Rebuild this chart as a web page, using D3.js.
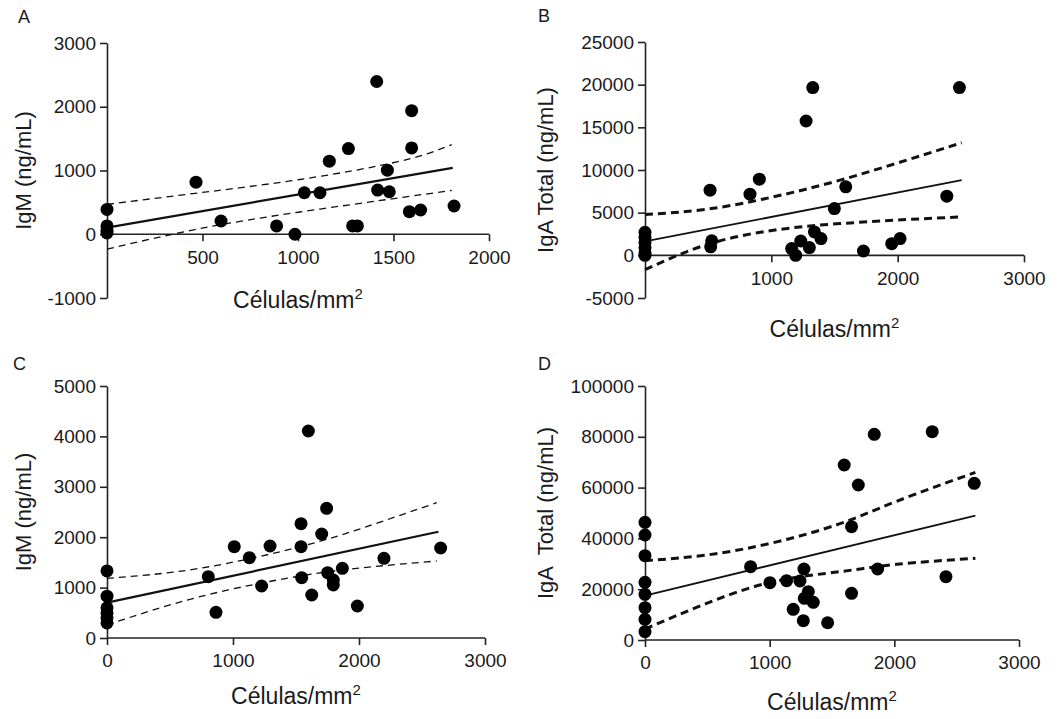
<!DOCTYPE html>
<html>
<head>
<meta charset="utf-8">
<script src="https://cdn.jsdelivr.net/npm/d3@7"></script>
<style>
  body { margin: 0; background: #fff; }
  svg text { font-family: "Liberation Sans", Arial, sans-serif; fill: #1a1a1a; }
</style>
</head>
<body>
<div id="container"></div>
<script>
/**
 * DATA
 * */
// A: IgM vs células/mm2
const aX = [0, 0, 0, 0, 466, 597, 888, 984, 1033, 1115, 1164, 1264, 1286, 1311, 1412, 1417, 1468, 1478, 1583, 1595, 1595, 1642, 1817];
const aY = [390, 130, 60, 20, 817, 208, 130, 0, 651, 651, 1146, 1344, 130, 130, 2396, 693, 1005, 667, 354, 1938, 1354, 380, 443];
const aFitX = [0, 1810];
const aFitY = [104, 1042];
const aBandX = [0, 487, 1010, 1534, 1805];
const aUpper = [469, 651, 859, 1146, 1406];
const aLower = [-234, 89, 349, 573, 688];

// B: IgA total vs células/mm2
const bX = [0, 0, 0, 0, 0, 0, 515, 528, 520, 831, 905, 1161, 1193, 1233, 1275, 1301, 1328, 1341, 1393, 1499, 1589, 1729, 1953, 2019, 2389, 2489];
const bY = [2700, 2100, 1500, 900, 300, 0, 7635, 1700, 1000, 7165, 8928, 787, 0, 1680, 15740, 904, 19655, 2740, 1960, 5480, 8025, 510, 1370, 1960, 6930, 19655];
const bFitX = [0, 2507];
const bFitY = [1640, 8810];
const bBandX = [0, 488, 1016, 1544, 2072, 2507];
const bUpper = [4780, 5400, 6850, 8810, 11160, 13190];
const bLower = [-1680, 1250, 2940, 3720, 4190, 4500];

// C: IgM vs células/mm2
const cX = [0, 0, 0, 0, 0, 0, 804, 865, 1010, 1130, 1227, 1294, 1540, 1540, 1545, 1598, 1625, 1704, 1743, 1751, 1796, 1796, 1868, 1987, 2198, 2648];
const cY = [1330, 830, 600, 500, 400, 300, 1217, 510, 1812, 1594, 1032, 1825, 2268, 1812, 1197, 4107, 853, 2063, 2573, 1296, 1151, 1052, 1382, 635, 1581, 1786];
const cFitX = [0, 2630];
const cFitY = [701, 2109];
const cBandX = [0, 738, 1532, 2061, 2617];
const cUpper = [1184, 1383, 1812, 2209, 2685];
const cLower = [258, 820, 1230, 1403, 1528];

// D: IgA total vs células/mm2
const dX = [0, 0, 0, 0, 0, 0, 0, 0, 847, 1002, 1136, 1189, 1243, 1270, 1275, 1278, 1310, 1350, 1465, 1598, 1657, 1657, 1711, 1839, 1866, 2304, 2414, 2641];
const dY = [46340, 41340, 33200, 22700, 17990, 12720, 8150, 3270, 28860, 22560, 23350, 12080, 23230, 7600, 27950, 16400, 19020, 14830, 6800, 68900, 44600, 18370, 61020, 80980, 27950, 82000, 24930, 61690];
const dFitX = [0, 2650];
const dFitY = [17500, 49000];
const dBandX = [0, 495, 1029, 1564, 2018, 2650];
const dUpper = [31220, 33460, 38310, 45800, 54600, 66000];
const dLower = [4300, 14450, 22950, 26900, 29800, 32160];

// ticks
const aXTicks = [500, 1000, 1500, 2000];
const aYTicks = [-1000, 0, 1000, 2000, 3000];
const bXTicks = [1000, 2000, 3000];
const bYTicks = [-5000, 0, 5000, 10000, 15000, 20000, 25000];
const cXTicks = [0, 1000, 2000, 3000];
const cYTicks = [0, 1000, 2000, 3000, 4000, 5000];
const dXTicks = [0, 1000, 2000, 3000];
const dYTicks = [0, 20000, 40000, 60000, 80000, 100000];

/**
 * LAYOUT
 * */
const width = 1060, height = 719;

const panels = [
  { letter: "A", title: "IgM (ng/mL)", x: aX, y: aY, fitX: aFitX, fitY: aFitY, bandX: aBandX, up: aUpper, lo: aLower,
    xTicks: aXTicks, yTicks: aYTicks, xDom: [0, 2000], yDom: [-1000, 3000],
    xR: [107, 489], yR: [298, 43], letterPos: [18, 23], yTitleX: 31, xTitleY: 308, thick: false },
  { letter: "B", title: "IgA Total (ng/mL)", x: bX, y: bY, fitX: bFitX, fitY: bFitY, bandX: bBandX, up: bUpper, lo: bLower,
    xTicks: bXTicks, yTicks: bYTicks, xDom: [0, 3000], yDom: [-5000, 25000],
    xR: [645, 1024], yR: [298, 42], letterPos: [538, 22], yTitleX: 553, xTitleY: 337, thick: true },
  { letter: "C", title: "IgM (ng/mL)", x: cX, y: cY, fitX: cFitX, fitY: cFitY, bandX: cBandX, up: cUpper, lo: cLower,
    xTicks: cXTicks, yTicks: cYTicks, xDom: [0, 3000], yDom: [0, 5000],
    xR: [107, 485], yR: [638, 386], letterPos: [13, 370], yTitleX: 31, xTitleY: 704, thick: false },
  { letter: "D", title: "IgA  Total (ng/mL)", x: dX, y: dY, fitX: dFitX, fitY: dFitY, bandX: dBandX, up: dUpper, lo: dLower,
    xTicks: dXTicks, yTicks: dYTicks, xDom: [0, 3000], yDom: [0, 100000],
    xR: [645, 1019], yR: [640, 386], letterPos: [538, 370], yTitleX: 553, xTitleY: 710, thick: true }
];

// plain hyphen for negatives, like the original figure
const fmt = d => String(d);

const svg = d3.select("#container").append("svg")
  .attr("width", width)
  .attr("height", height);

panels.forEach(drawPanel);

function drawPanel(p) {
  const x = d3.scaleLinear().domain(p.xDom).range(p.xR);
  const y = d3.scaleLinear().domain(p.yDom).range(p.yR);
  const g = svg.append("g");

  // axes
  const yAxis = g.append("g")
    .attr("transform", `translate(${p.xR[0]},0)`)
    .call(d3.axisLeft(y).tickValues(p.yTicks).tickSize(7).tickSizeOuter(0).tickPadding(4).tickFormat(fmt));
  const xAxis = g.append("g")
    .attr("transform", `translate(0,${y(0)})`)
    .call(d3.axisBottom(x).tickValues(p.xTicks).tickSize(7).tickSizeOuter(0).tickPadding(9).tickFormat(fmt));

  [xAxis, yAxis].forEach(ax => {
    ax.select(".domain").attr("stroke", "#222").attr("stroke-width", 1.6);
    ax.selectAll(".tick line").attr("stroke", "#222").attr("stroke-width", 1.6);
    ax.selectAll(".tick text").attr("font-size", 19).attr("fill", "#1a1a1a")
      .style("font-family", "'Liberation Sans', Arial, sans-serif");
  });
  xAxis.select(".domain").attr("d", `M${p.xR[0]},0H${p.xR[1]}`);

  // confidence band
  const band = d3.line()
    .x((d, i) => x(p.bandX[i]))
    .y(d => y(d))
    .curve(d3.curveNatural);
  [p.up, p.lo].forEach(arr => {
    g.append("path")
      .attr("d", band(arr))
      .attr("fill", "none")
      .attr("stroke", "#111")
      .attr("stroke-width", p.thick ? 3 : 1.3)
      .attr("stroke-dasharray", p.thick ? "8,5" : "7,5");
  });

  // regression line
  g.append("line")
    .attr("x1", x(p.fitX[0])).attr("y1", y(p.fitY[0]))
    .attr("x2", x(p.fitX[1])).attr("y2", y(p.fitY[1]))
    .attr("stroke", "#111")
    .attr("stroke-width", p.thick ? 1.8 : 2.2);

  // points
  g.selectAll("circle.pt")
    .data(p.x.map((v, i) => [v, p.y[i]]))
    .join("circle")
    .attr("class", "pt")
    .attr("cx", d => x(d[0]))
    .attr("cy", d => y(d[1]))
    .attr("r", 6.5)
    .attr("fill", "#000");

  // titles
  g.append("text")
    .attr("x", p.letterPos[0]).attr("y", p.letterPos[1])
    .attr("font-size", 18)
    .text(p.letter);

  g.append("text")
    .attr("transform", `translate(${p.yTitleX},${(p.yR[0] + p.yR[1]) / 2}) rotate(-90)`)
    .attr("text-anchor", "middle")
    .attr("font-size", 22)
    .style("white-space", "pre")
    .text(p.title);

  const xt = g.append("text")
    .attr("x", (p.xR[0] + p.xR[1]) / 2)
    .attr("y", p.xTitleY)
    .attr("text-anchor", "middle")
    .attr("font-size", 23);
  xt.append("tspan").text("Células/mm");
  xt.append("tspan").attr("font-size", 15).attr("dy", -9).text("2");
}
</script>
</body>
</html>
